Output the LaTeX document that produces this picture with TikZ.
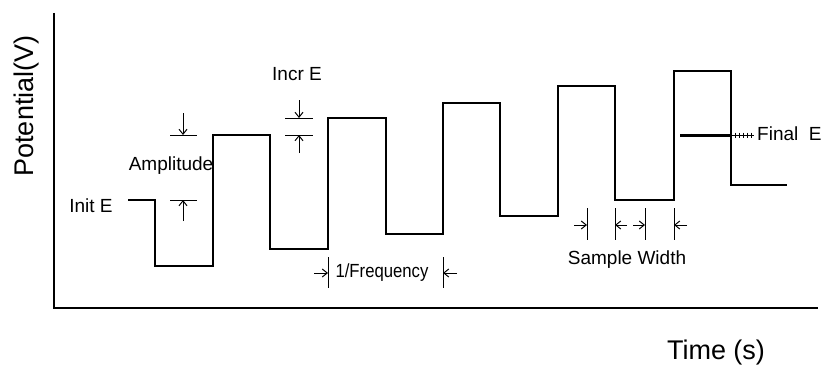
\documentclass[tikz,border=0pt]{standalone}
\usepackage{fontspec}
\setmainfont{Liberation Sans}
\usetikzlibrary{arrows.meta}
\usetikzlibrary{calc,backgrounds}
\pgfdeclarelayer{edgelayer}
\pgfdeclarelayer{nodelayer}
\pgfsetlayers{background,edgelayer,nodelayer,main}
\tikzstyle{none}=[inner sep=0mm]
\tikzstyle{lbl}=[inner sep=0mm,font=\fontsize{19}{22}\selectfont]
\tikzstyle{axlbl}=[inner sep=0mm,font=\fontsize{27}{32}\selectfont]
\tikzstyle{axis}=[line width=1.2pt]
\tikzstyle{wave}=[line width=1.3pt,line join=miter]
\tikzstyle{tick}=[line width=1pt]
\tikzstyle{pin}=[line width=1pt,-{Straight Barb[length=5pt,width=8pt]}]

\begin{document}
\begin{tikzpicture}[x=1pt,y=-1pt]
	\useasboundingbox (0,0) rectangle (826,369);
	\begin{pgfonlayer}{nodelayer}
		\node [style=axlbl, rotate=90] (pot) at (27, 106) {Potential(V)};
		\node [style=axlbl] (time) at (716, 353) {Time (s)};
		\node [style=lbl] (init) at (91, 206) {Init E};
		\node [style=lbl] (amp) at (171, 166) {Amplitude};
		\node [style=lbl] (incr) at (297, 74) {Incr E};
		\node [style=lbl, xscale=0.88] (freq) at (382, 273) {1/Frequency};
		\node [style=lbl] (sw) at (627, 260) {Sample Width};
		\node [style=lbl, anchor=west] (final) at (757, 134) {Final\ \ E};
		% axes
		\node [style=none] (o) at (54, 308) {};
		\node [style=none] (ytop) at (54, 13) {};
		\node [style=none] (xend) at (818, 308) {};
		% arrow tails and heads
		\node [style=none] (a1) at (183, 113) {};
		\node [style=none] (a2) at (183, 135) {};
		\node [style=none] (a3) at (183, 221) {};
		\node [style=none] (a4) at (183, 200) {};
		\node [style=none] (i1) at (299, 100) {};
		\node [style=none] (i2) at (299, 118) {};
		\node [style=none] (i3) at (299, 153) {};
		\node [style=none] (i4) at (299, 135) {};
		\node [style=none] (f1) at (314, 273) {};
		\node [style=none] (f2) at (328, 273) {};
		\node [style=none] (f3) at (457, 273) {};
		\node [style=none] (f4) at (443, 273) {};
		\node [style=none] (e1) at (680, 135) {};
		\node [style=none] (e2) at (732, 135) {};
		\node [style=none] (e3) at (754, 135) {};
	\end{pgfonlayer}
	\begin{pgfonlayer}{edgelayer}
		\draw [style=axis] (ytop.center) -- (o.center) -- (xend.center);
		\draw [style=wave] (128,200) -- (155,200) -- (155,266) -- (213,266)
			-- (213,135) -- (270,135) -- (270,249) -- (328,249)
			-- (328,118) -- (386,118) -- (386,234) -- (443,234)
			-- (443,103) -- (500,103) -- (500,216) -- (558,216)
			-- (558,86) -- (615,86) -- (615,200) -- (674,200)
			-- (674,71) -- (731,71) -- (731,185) -- (787,185);
		% amplitude
		\draw [style=tick] (170,135) -- (197,135);
		\draw [style=tick] (170,200) -- (197,200);
		\draw [style=pin] (a1.center) to (a2.center);
		\draw [style=pin] (a3.center) to (a4.center);
		% incr E
		\draw [style=tick] (285,118) -- (313,118);
		\draw [style=tick] (285,135) -- (313,135);
		\draw [style=pin] (i1.center) to (i2.center);
		\draw [style=pin] (i3.center) to (i4.center);
		% 1/frequency
		\draw [style=tick] (328,257) -- (328,288);
		\draw [style=tick] (443,257) -- (443,288);
		\draw [style=pin] (f1.center) to (f2.center);
		\draw [style=pin] (f3.center) to (f4.center);
		% sample width
		\foreach \x in {587,615,645,674}
			\draw [style=tick] (\x,208) -- (\x,240);
		\foreach \a/\b in {574/587,627/615,633/645,687/674}
			\draw [style=pin] (\a,225) -- (\b,225);
		% final E
		\draw [line width=3pt] (e1.center) to (e2.center);
		\draw [line width=0.8pt] (e2.center) to (e3.center);
		\foreach \x in {735,739,743,747,751}
			\draw [line width=0.6pt] (\x,132.5) -- (\x,137.5);
	\end{pgfonlayer}
\end{tikzpicture}
\end{document}
